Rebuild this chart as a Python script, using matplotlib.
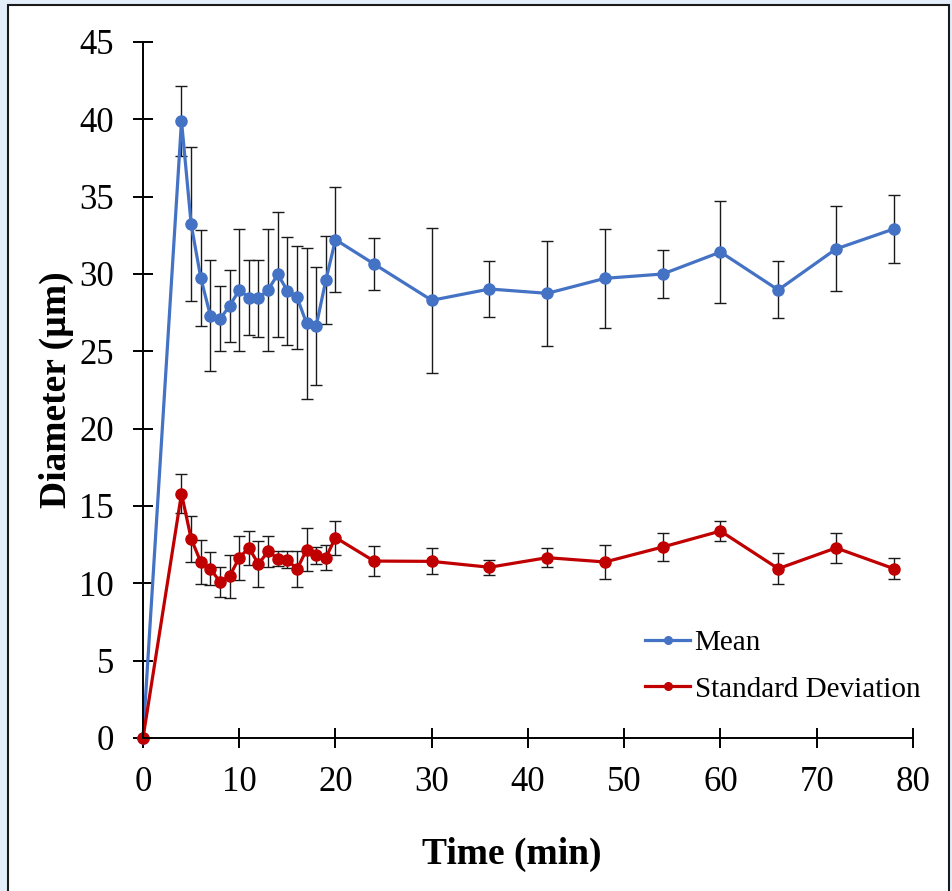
import matplotlib
matplotlib.use("Agg")
import matplotlib.pyplot as plt
from matplotlib.patches import Rectangle
from matplotlib.lines import Line2D
import numpy as np

plt.rcParams['font.family'] = ['Liberation Serif', 'DejaVu Serif']

time_min = [0, 4, 5, 6, 7, 8, 9, 10, 11, 12, 13, 14, 15, 16, 17, 18, 19, 20,
            24, 30, 36, 42, 48, 54, 60, 66, 72, 78]
mean_d = [0, 39.9, 33.23, 29.76, 27.3, 27.1, 27.93, 28.97, 28.47, 28.43, 28.97,
          29.98, 28.92, 28.5, 26.8, 26.66, 29.61, 32.22,
          30.65, 28.3, 29.03, 28.75, 29.72, 30.0, 31.42, 28.97, 31.62, 32.91]
mean_err = [0, 2.28, 4.95, 3.1, 3.6, 2.1, 2.33, 3.95, 2.41, 2.48, 3.92,
            4.06, 3.49, 3.33, 4.85, 3.82, 2.83, 3.4,
            1.68, 4.68, 1.82, 3.39, 3.21, 1.56, 3.32, 1.84, 2.75, 2.21]
sd_d = [0, 15.8, 12.89, 11.38, 10.95, 10.09, 10.46, 11.66, 12.29, 11.25, 12.07,
        11.6, 11.53, 10.91, 12.18, 11.81, 11.66, 12.96,
        11.44, 11.42, 11.04, 11.66, 11.38, 12.35, 13.38, 10.95, 12.29, 10.95]
sd_err = [0, 1.24, 1.48, 1.45, 1.07, 0.97, 1.4, 1.43, 1.08, 1.48, 1.0,
          0.47, 0.53, 1.17, 1.37, 0.54, 0.8, 1.1,
          0.98, 0.84, 0.5, 0.6, 1.12, 0.9, 0.66, 1.0, 0.95, 0.7]

fig = plt.figure(figsize=(9.53, 8.91), dpi=100)
fig.patch.set_facecolor('#e4eefb')
# white chart area with a thin dark frame
fig.patches.append(Rectangle((8/953, -0.01), (949-8)/953, 1 - 5/891 + 0.01,
                             transform=fig.transFigure, facecolor='white',
                             edgecolor='#1a1a1a', lw=1.5, zorder=-1))

ax = fig.add_axes([143/953, (891-738)/891, 770/953, 696/891])
ax.set_zorder(1)
ax.set_facecolor('none')

handles = []
for y, e, col, lab in [(mean_d, mean_err, '#4472C4', 'Mean'),
                       (sd_d, sd_err, '#C00000', 'Standard Deviation')]:
    ax.errorbar(time_min, y, yerr=e, fmt='-o', color=col, lw=2.3, ms=8,
                ecolor='#1a1a1a', elinewidth=1.0, capsize=4, capthick=1.0,
                clip_on=False)
    handles.append(Line2D([], [], color=col, lw=2.3, marker='o', ms=5.5, label=lab))

ax.set_xlim(0, 80)
ax.set_ylim(0, 45)
ax.set_xticks(np.arange(0, 81, 10))
ax.set_yticks(np.arange(0, 46, 5))
for s in ['top', 'right']:
    ax.spines[s].set_visible(False)
for s in ['left', 'bottom']:
    ax.spines[s].set_linewidth(1.4)
ax.tick_params(direction='inout', length=14, width=1.4, labelsize=25)
ax.tick_params(axis='y', pad=14)
ax.tick_params(axis='x', pad=13)

ax.set_xlabel('Time (min)', fontsize=27, fontweight='bold')
ax.set_ylabel('Diameter (µm)', fontsize=27, fontweight='bold')
ax.xaxis.set_label_coords(0.479, -0.142)
ax.yaxis.set_label_coords(-0.09, 0.5)

ax.legend(handles=handles, loc='center left', frameon=False, fontsize=21,
          bbox_to_anchor=(645/953, 1 - 666/891),
          bbox_transform=fig.transFigure, borderpad=0, borderaxespad=0,
          handlelength=1.55, handletextpad=0.15, labelspacing=0.7)

fig.savefig('out.png', dpi=100, facecolor=fig.get_facecolor())
